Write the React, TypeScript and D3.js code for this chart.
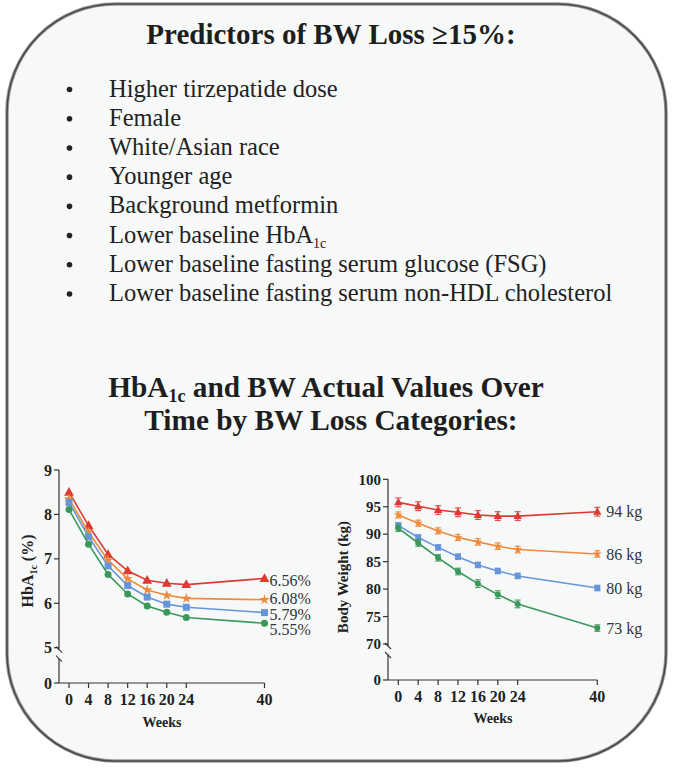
import React from "react";
import * as d3 from "d3";

const weeks = [0, 4, 8, 12, 16, 20, 24, 40];

const seriesNames = ["red", "orange", "blue", "green"];
const seriesColors = ["#dc3a33", "#ee8a3b", "#6696d9", "#3b985b"];
const seriesMarkers = ["triangle", "star", "square", "circle"];

const hba1cRed = [8.5, 7.75, 7.1, 6.73, 6.52, 6.45, 6.42, 6.56];
const hba1cOrange = [8.35, 7.6, 6.97, 6.55, 6.3, 6.18, 6.11, 6.08];
const hba1cBlue = [8.27, 7.5, 6.84, 6.4, 6.14, 5.98, 5.91, 5.79];
const hba1cGreen = [8.11, 7.33, 6.65, 6.21, 5.94, 5.8, 5.68, 5.55];
const hba1cLabels = ["6.56%", "6.08%", "5.79%", "5.55%"];
const hba1cLabelValues = [6.52, 6.1, 5.76, 5.42];

const bwRed = [95.8, 95.1, 94.4, 94.0, 93.5, 93.3, 93.3, 94.1];
const bwOrange = [93.5, 92.0, 90.6, 89.4, 88.6, 87.8, 87.2, 86.4];
const bwBlue = [91.6, 89.4, 87.6, 85.9, 84.4, 83.3, 82.4, 80.2];
const bwGreen = [91.1, 88.4, 85.7, 83.2, 81.0, 79.0, 77.3, 72.9];
const bwErrRed = [0.8, 0.8, 0.8, 0.8, 0.8, 0.8, 0.8, 0.8];
const bwErrOrange = [0.55, 0.55, 0.55, 0.55, 0.6, 0.6, 0.6, 0.6];
const bwErrBlue = [0.5, 0.5, 0.5, 0.5, 0.5, 0.5, 0.5, 0.5];
const bwErrGreen = [0.6, 0.6, 0.6, 0.6, 0.7, 0.7, 0.7, 0.6];
const bwLabels = ["94 kg", "86 kg", "80 kg", "73 kg"];

const hbTicks = [0, 5, 6, 7, 8, 9];
const bwTicks = [0, 70, 75, 80, 85, 90, 95, 100];

const predictors = [
  "Higher tirzepatide dose",
  "Female",
  "White/Asian race",
  "Younger age",
  "Background metformin",
  "Lower baseline HbA|1c",
  "Lower baseline fasting serum glucose (FSG)",
  "Lower baseline fasting serum non-HDL cholesterol",
];

const SERIF = "Liberation Serif, DejaVu Serif, serif";
const FS = { fontFamily: SERIF };

function Marker({ type, x, y, color, size }: { type: string; x: number; y: number; color: string; size: number }) {
  if (type === "triangle") {
    const s = size;
    return <path d={`M${x},${y - s * 0.75} L${x + s * 0.7},${y + s * 0.5} L${x - s * 0.7},${y + s * 0.5} Z`} fill={color} />;
  }
  if (type === "square") {
    return <rect x={x - size / 2} y={y - size / 2} width={size} height={size} fill={color} />;
  }
  if (type === "star") {
    const p = d3.symbol(d3.symbolStar, size * size * 0.7)();
    return <path d={p || ""} transform={`translate(${x},${y})`} fill={color} />;
  }
  return <circle cx={x} cy={y} r={size / 2} fill={color} />;
}

function HbChart() {
  const x = d3.scaleLinear().domain([0, 40]).range([69, 264.5]);
  const y = d3.scaleLinear().domain([0, 5, 9]).range([683, 647.7, 470]);
  const data = [hba1cRed, hba1cOrange, hba1cBlue, hba1cGreen];
  const line = d3.line<number>().x((_, i) => x(weeks[i])).y((d) => y(d));
  const axisX = 59;
  const breakTop = y(5) + 2;
  const breakBot = y(5) + 11;
  return (
    <g style={FS}>
      <line x1={axisX} x2={axisX} y1={y(9)} y2={breakTop} stroke="#333" strokeWidth={1.2} />
      <line x1={axisX} x2={axisX} y1={breakBot} y2={y(0)} stroke="#333" strokeWidth={1.2} />
      <line x1={axisX - 3} x2={axisX + 3} y1={breakTop - 3} y2={breakTop + 3} stroke="#333" strokeWidth={1.1} />
      <line x1={axisX - 3} x2={axisX + 3} y1={breakBot - 3} y2={breakBot + 3} stroke="#333" strokeWidth={1.1} />
      {hbTicks.map((t) => (
        <g key={t}>
          <line x1={axisX - 5} x2={axisX} y1={y(t)} y2={y(t)} stroke="#333" strokeWidth={1.2} />
          <text x={axisX - 7} y={y(t)} dy="0.35em" textAnchor="end" fontWeight="bold" fontSize={16} fill="#222">{t}</text>
        </g>
      ))}
      <line x1={axisX} x2={x(40)} y1={y(0)} y2={y(0)} stroke="#333" strokeWidth={1.2} />
      {weeks.map((w) => (
        <g key={w}>
          <line x1={x(w)} x2={x(w)} y1={y(0)} y2={y(0) + 5} stroke="#333" strokeWidth={1.2} />
          <text x={x(w)} y={y(0) + 22} textAnchor="middle" fontWeight="bold" fontSize={16} fill="#222">{w}</text>
        </g>
      ))}
      <text x={162} y={727} textAnchor="middle" fontWeight="bold" fontSize={14} fill="#222">Weeks</text>
      <text transform="translate(33,571) rotate(-90)" textAnchor="middle" fontWeight="bold" fontSize={16} fill="#222">
        HbA<tspan fontSize={10} dy={4}>1c</tspan><tspan dy={-4}> (%)</tspan>
      </text>
      {data.map((s, k) => (
        <g key={seriesNames[k]}>
          <path d={line(s) || ""} fill="none" stroke={seriesColors[k]} strokeWidth={1.6} />
          {s.map((v, i) => (
            <Marker key={i} type={seriesMarkers[k]} x={x(weeks[i])} y={y(v)} color={seriesColors[k]} size={7} />
          ))}
          <text x={x(40) + 5} y={y(hba1cLabelValues[k])} dy="0.35em" fontSize={16} fill="#333">{hba1cLabels[k]}</text>
        </g>
      ))}
    </g>
  );
}

function BwChart() {
  const x = d3.scaleLinear().domain([0, 40]).range([398.3, 597.3]);
  const y = d3.scaleLinear().domain([0, 70, 100]).range([680, 644, 479.3]);
  const data = [bwRed, bwOrange, bwBlue, bwGreen];
  const errs = [bwErrRed, bwErrOrange, bwErrBlue, bwErrGreen];
  const line = d3.line<number>().x((_, i) => x(weeks[i])).y((d) => y(d));
  const axisX = 388;
  const breakTop = y(70) + 2;
  const breakBot = y(70) + 11;
  return (
    <g style={FS}>
      <line x1={axisX} x2={axisX} y1={y(100)} y2={breakTop} stroke="#333" strokeWidth={1.2} />
      <line x1={axisX} x2={axisX} y1={breakBot} y2={y(0)} stroke="#333" strokeWidth={1.2} />
      <line x1={axisX - 3} x2={axisX + 3} y1={breakTop - 3} y2={breakTop + 3} stroke="#333" strokeWidth={1.1} />
      <line x1={axisX - 3} x2={axisX + 3} y1={breakBot - 3} y2={breakBot + 3} stroke="#333" strokeWidth={1.1} />
      {bwTicks.map((t) => (
        <g key={t}>
          <line x1={axisX - 5} x2={axisX} y1={y(t)} y2={y(t)} stroke="#333" strokeWidth={1.2} />
          <text x={axisX - 7} y={y(t)} dy="0.35em" textAnchor="end" fontWeight="bold" fontSize={15} fill="#222">{t}</text>
        </g>
      ))}
      <line x1={axisX} x2={x(40)} y1={y(0)} y2={y(0)} stroke="#333" strokeWidth={1.2} />
      {weeks.map((w) => (
        <g key={w}>
          <line x1={x(w)} x2={x(w)} y1={y(0)} y2={y(0) + 5} stroke="#333" strokeWidth={1.2} />
          <text x={x(w)} y={y(0) + 22} textAnchor="middle" fontWeight="bold" fontSize={16} fill="#222">{w}</text>
        </g>
      ))}
      <text x={493} y={723} textAnchor="middle" fontWeight="bold" fontSize={14} fill="#222">Weeks</text>
      <text transform="translate(348,577) rotate(-90)" textAnchor="middle" fontWeight="bold" fontSize={15} fill="#222">Body Weight (kg)</text>
      {data.map((s, k) => (
        <g key={seriesNames[k]}>
          <path d={line(s) || ""} fill="none" stroke={seriesColors[k]} strokeWidth={1.6} />
          {s.map((v, i) => {
            const cx = x(weeks[i]);
            const y1 = y(v + errs[k][i]);
            const y2 = y(v - errs[k][i]);
            return (
              <g key={i}>
                <line x1={cx} x2={cx} y1={y1} y2={y2} stroke={seriesColors[k]} strokeWidth={1.2} opacity={0.85} />
                <line x1={cx - 3} x2={cx + 3} y1={y1} y2={y1} stroke={seriesColors[k]} strokeWidth={1.2} opacity={0.85} />
                <line x1={cx - 3} x2={cx + 3} y1={y2} y2={y2} stroke={seriesColors[k]} strokeWidth={1.2} opacity={0.85} />
                <Marker type={seriesMarkers[k]} x={cx} y={y(v)} color={seriesColors[k]} size={6} />
              </g>
            );
          })}
          <text x={x(40) + 9} y={y(s[s.length - 1])} dy="0.35em" fontSize={16} fill="#333">{bwLabels[k]}</text>
        </g>
      ))}
    </g>
  );
}

export default function App() {
  const rowY = d3.scaleLinear().domain([0, 7]).range([96.5, 301]);
  return (
    <svg width={674} height={770} style={{ position: "absolute", left: 0, top: 0, fontFamily: SERIF }}>
      <rect x={0} y={0} width={674} height={770} fill="#ffffff" />
      <rect x={7} y={4} width={659} height={757} rx={108} ry={108} fill="#f7f9f9" stroke="#9a9a9a" strokeWidth={3.5} />
      <rect x={7} y={4} width={659} height={757} rx={108} ry={108} fill="none" stroke="#4a4a4a" strokeWidth={1.6} />
      <g style={FS}>
        <text x={331} y={44} textAnchor="middle" fontWeight="bold" fontSize={29} fill="#1e1e1e">Predictors of BW Loss ≥15%:</text>
        {predictors.map((p, i) => {
          const parts = p.split("|");
          return (
            <g key={i}>
              <circle cx={69.5} cy={rowY(i) - 7} r={2.8} fill="#222" />
              <text x={109} y={rowY(i)} fontSize={24.5} fill="#222">
                {parts[0]}
                {parts[1] ? <tspan fontSize={14} dy={5}>{parts[1]}</tspan> : null}
              </text>
            </g>
          );
        })}
        <text x={326} y={397} textAnchor="middle" fontWeight="bold" fontSize={29.3} fill="#1e1e1e">
          HbA<tspan fontSize={18} dy={5}>1c</tspan><tspan dy={-5}> and BW Actual Values Over</tspan>
        </text>
        <text x={331} y={430} textAnchor="middle" fontWeight="bold" fontSize={29.3} fill="#1e1e1e">Time by BW Loss Categories:</text>
      </g>
      <HbChart />
      <BwChart />
    </svg>
  );
}
